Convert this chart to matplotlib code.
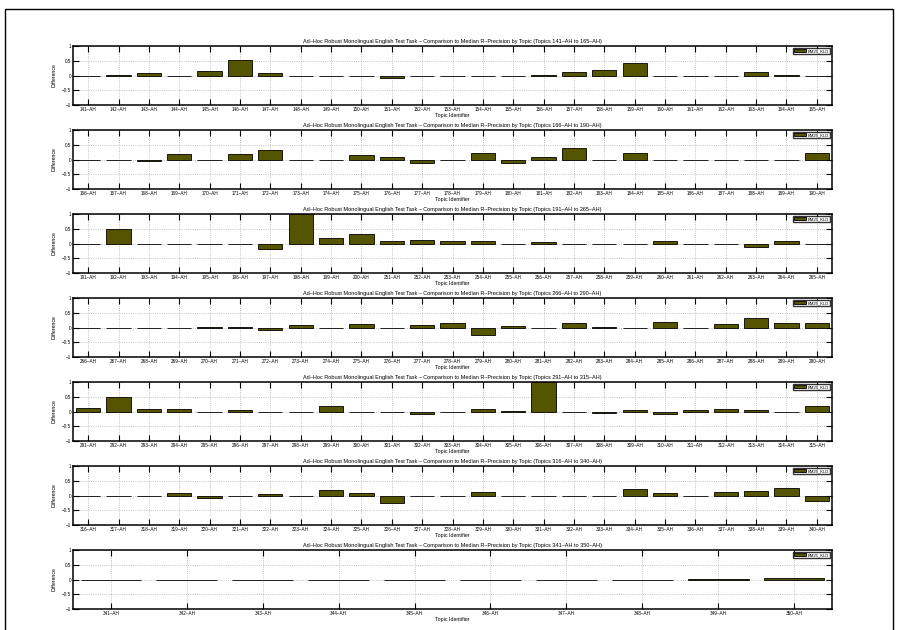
import matplotlib
matplotlib.use("Agg")
import matplotlib.pyplot as plt
from matplotlib.patches import Rectangle, Patch

plt.rcParams['font.family'] = ['Liberation Sans', 'DejaVu Sans']

# ---- data -------------------------------------------------------------
topics_1 = [141, 142, 143, 144, 145, 146, 147, 148, 149, 150, 151, 152, 153,
            154, 155, 156, 157, 158, 159, 160, 161, 162, 163, 164, 165]
values_1 = [0.0, 0.01, 0.09, 0.0, 0.16, 0.52, 0.09, 0.0, 0.0, 0.0, -0.09, 0.0, 0.0,
            0.0, 0.0, 0.02, 0.13, 0.17, 0.41, 0.0, 0.0, 0.0, 0.13, 0.02, 0.0]

topics_2 = [166, 167, 168, 169, 170, 171, 172, 173, 174, 175, 176, 177, 178,
            179, 180, 181, 182, 183, 184, 185, 186, 187, 188, 189, 190]
values_2 = [0.0, 0.0, -0.06, 0.19, 0.0, 0.19, 0.31, 0.0, 0.0, 0.16, 0.07, -0.11, 0.0,
            0.23, -0.11, 0.09, 0.38, 0.0, 0.23, 0.0, 0.0, 0.0, 0.0, 0.0, 0.23]

topics_3 = [191, 192, 193, 194, 195, 196, 197, 198, 199, 200, 251, 252, 253,
            254, 255, 256, 257, 258, 259, 260, 261, 262, 263, 264, 265]
values_3 = [0.0, 0.49, 0.0, 0.0, 0.0, 0.0, -0.17, 1.0, 0.2, 0.33, 0.07, 0.11, 0.07,
            0.09, 0.0, 0.04, 0.0, 0.0, 0.0, 0.1, 0.0, 0.0, -0.11, 0.09, 0.0]

topics_4 = [266, 267, 268, 269, 270, 271, 272, 273, 274, 275, 276, 277, 278,
            279, 280, 281, 282, 283, 284, 285, 286, 287, 288, 289, 290]
values_4 = [0.0, 0.0, 0.0, 0.0, 0.03, 0.03, -0.09, 0.08, 0.0, 0.11, 0.0, 0.08, 0.14,
            -0.26, 0.05, -0.02, 0.14, 0.03, 0.0, 0.17, 0.0, 0.11, 0.31, 0.14, 0.14]

topics_5 = [291, 292, 293, 294, 295, 296, 297, 298, 299, 300, 301, 302, 303,
            304, 305, 306, 307, 308, 309, 310, 311, 312, 313, 314, 315]
values_5 = [0.11, 0.5, 0.08, 0.1, -0.03, 0.05, 0.0, 0.0, 0.17, 0.0, 0.0, -0.07, 0.0,
            0.08, 0.03, 1.0, 0.0, -0.05, 0.06, -0.08, 0.04, 0.07, 0.06, 0.0, 0.18]

topics_6 = [316, 317, 318, 319, 320, 321, 322, 323, 324, 325, 326, 327, 328,
            329, 330, 331, 332, 333, 334, 335, 336, 337, 338, 339, 340]
values_6 = [-0.03, -0.03, 0.0, 0.07, -0.07, 0.0, 0.04, 0.0, 0.2, 0.07, -0.25, 0.0, 0.0,
            0.13, 0.0, 0.0, 0.0, 0.0, 0.21, 0.09, 0.0, 0.12, 0.16, 0.25, -0.19]

topics_7 = [341, 342, 343, 344, 345, 346, 347, 348, 349, 350]
values_7 = [0.0, -0.02, 0.0, -0.02, 0.0, 0.0, 0.0, 0.0, 0.02, 0.06]

run_name = "BM25_KLD"
groups = [(topics_1, values_1), (topics_2, values_2), (topics_3, values_3),
          (topics_4, values_4), (topics_5, values_5), (topics_6, values_6),
          (topics_7, values_7)]
y_ticks = [-1, -0.5, 0, 0.5, 1]
y_tick_labels = ["\u22121", "\u22120.5", "0", "0.5", "1"]

# ---- figure -------------------------------------------------------------
W, H = 899, 630
fig = plt.figure(figsize=(W / 100, H / 100), dpi=100)
fig.patch.set_facecolor("white")

# outer frame
fig.add_artist(Rectangle((5 / W, -0.02), 888 / W, 1.02 - 9 / H,
                         transform=fig.transFigure, fill=False,
                         edgecolor="black", linewidth=1.0))

bar_color = "#555500"
left_px, width_px, height_px = 73, 759, 59
tops = [46, 130, 214, 298, 382, 466, 550]

for (topics, vals), top in zip(groups, tops):
    ax = fig.add_axes([left_px / W, 1 - (top + height_px) / H,
                       width_px / W, height_px / H])
    n = len(topics)
    xs = list(range(n))
    ax.bar(xs, vals, width=0.8, color=bar_color, edgecolor="black",
           linewidth=0.6, label=run_name, zorder=3)
    ax.set_xlim(-0.5, n - 0.5)
    ax.set_ylim(-1, 1)
    ax.set_xticks(xs)
    ax.set_xticklabels([f"{t}\u2013AH" for t in topics], fontsize=3.3)
    ax.set_yticks(y_ticks)
    ax.set_yticklabels(y_tick_labels, fontsize=3.3)
    ax.tick_params(axis="both", direction="in", length=4.5, width=0.8,
                   top=True, right=True, pad=1.5)
    ax.grid(True, linestyle=":", color="#b0b0b0", linewidth=0.6, zorder=0)
    for s in ax.spines.values():
        s.set_linewidth(1.1)
    ax.set_ylabel("Difference", fontsize=3.8, labelpad=4)
    ax.set_xlabel("Topic Identifier", fontsize=3.8, labelpad=1)
    ax.set_title("Ad\u2013Hoc Robust Monolingual English Test Task \u2013 Comparison to "
                 "Median R\u2013Precision by Topic (Topics "
                 f"{topics[0]}\u2013AH to {topics[-1]}\u2013AH)",
                 fontsize=4.0, pad=2.5)
    leg = ax.legend(handles=[Patch(facecolor=bar_color, edgecolor="black",
                                   linewidth=0.6, label=run_name)],
                    loc="upper right", fontsize=3.0, frameon=True,
                    fancybox=False, borderpad=0.3, handlelength=3.0,
                    handleheight=0.9, handletextpad=0.3,
                    borderaxespad=0.4)
    leg.get_frame().set_edgecolor("black")
    leg.get_frame().set_linewidth(1.0)

fig.savefig("out.png", dpi=100, facecolor="white")
